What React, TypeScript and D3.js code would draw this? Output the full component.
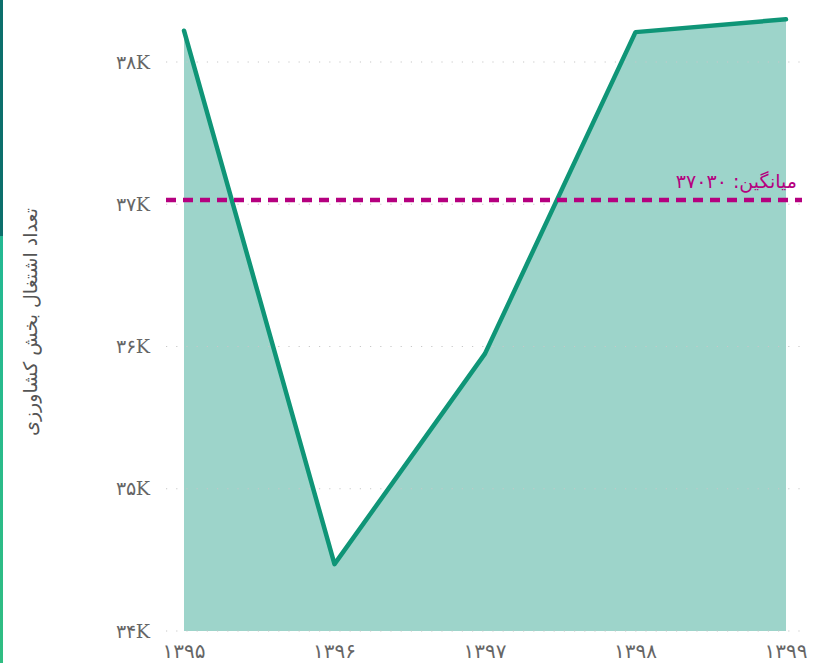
import React from "react";
import * as d3 from "d3";

const years: string[] = ["۱۳۹۵", "۱۳۹۶", "۱۳۹۷", "۱۳۹۸", "۱۳۹۹"];
const values: number[] = [38220, 34470, 35950, 38210, 38300];
const yTicks: number[] = [34000, 35000, 36000, 37000, 38000];
const yTickLabels: string[] = ["۳۴K", "۳۵K", "۳۶K", "۳۷K", "۳۸K"];
const meanValue = 37030;
const meanLabel = "میانگین: ۳۷۰۳۰";
const yTitle = "تعداد اشتغال بخش کشاورزی";

const W = 818;
const H = 663;

export default function App() {
  const x = d3.scalePoint<string>().domain(years).range([184, 786]);
  const y = d3.scaleLinear().domain([34000, 38000]).range([631, 62]);
  const pts = years.map((yr, i) => ({ yr, v: values[i] }));
  const line = d3
    .line<{ yr: string; v: number }>()
    .x((d) => x(d.yr) as number)
    .y((d) => y(d.v));
  const area = d3
    .area<{ yr: string; v: number }>()
    .x((d) => x(d.yr) as number)
    .y0(y(34000))
    .y1((d) => y(d.v));

  return (
    <div style={{ position: "fixed", left: 0, top: 0 }}>
      <svg width={W} height={H} style={{ display: "block" }}>
        <defs>
          <linearGradient id="sidebar" x1="0" y1="0" x2="0" y2="1">
            <stop offset="0" stopColor="#1cb69c" />
            <stop offset="1" stopColor="#30bd82" />
          </linearGradient>
        </defs>
        <rect x={0} y={0} width={W} height={H} fill="#fff" />
        <rect x={0} y={0} width={3} height={H} fill="url(#sidebar)" />
        <rect x={0} y={0} width={3} height={236} fill="#0c6f6c" />
        <path d={area(pts) || ""} fill="#9dd4ca" />
        {yTicks.map((t) => (
          <line
            key={t}
            x1={166}
            x2={800}
            y1={y(t)}
            y2={y(t)}
            stroke="#c8c8c8"
            strokeWidth={1.2}
            strokeDasharray="1.2 9"
          />
        ))}
        {yTicks.map((t, i) => (
          <text
            key={t}
            x={150}
            y={y(t)}
            dy="0.35em"
            textAnchor="end"
            fontFamily="'DejaVu Serif', serif"
            fontSize={19}
            fill="#666"
          >
            {yTickLabels[i]}
          </text>
        ))}
        {years.map((yr) => (
          <text
            key={yr}
            x={x(yr) as number}
            y={651}
            dy="0.35em"
            textAnchor="middle"
            fontFamily="'DejaVu Sans', sans-serif"
            fontSize={20}
            fill="#666"
          >
            {yr}
          </text>
        ))}
        <text
          transform={`translate(30,${322}) rotate(-90)`}
          textAnchor="middle"
          dy="0.35em"
          fontFamily="'DejaVu Sans', sans-serif"
          fontSize={19}
          fill="#555"
        >
          {yTitle}
        </text>
        <path
          d={line(pts) || ""}
          fill="none"
          stroke="#0f9577"
          strokeWidth={4.5}
          strokeLinecap="round"
          strokeLinejoin="round"
        />
        <line
          x1={166}
          x2={802}
          y1={y(meanValue)}
          y2={y(meanValue)}
          stroke="#b5007f"
          strokeWidth={4.5}
          strokeDasharray="10 7"
        />
        <text
          x={797}
          y={181}
          dy="0.35em"
          textAnchor="end"
          fontFamily="'DejaVu Sans', sans-serif"
          fontSize={19}
          fill="#b5007f"
        >
          {meanLabel}
        </text>
      </svg>
    </div>
  );
}
